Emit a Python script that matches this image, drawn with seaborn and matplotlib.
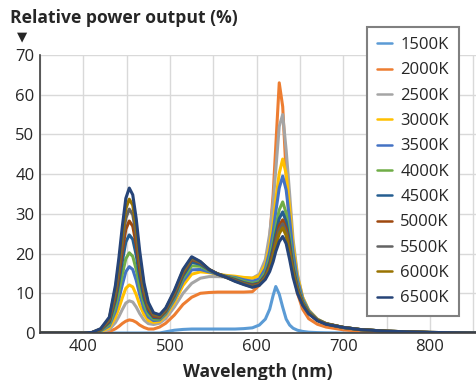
import numpy as np
import pandas as pd
import matplotlib
matplotlib.use("Agg")
import matplotlib.pyplot as plt
import seaborn as sns

# sample wavelengths (nm)
wavelength = [350, 400, 410, 420, 430, 437, 441, 445, 449, 453, 457, 461, 465, 470, 475,
              481, 488, 495, 505, 515, 525, 535, 545, 555, 565, 575, 585, 595,
              603, 610, 615, 619, 622, 626, 630, 634, 638, 642, 647, 653, 660, 670, 680,
              700, 720, 750, 800, 860]

cct_labels = ["1500K", "2000K", "2500K", "3000K", "3500K", "4000K",
              "4500K", "5000K", "5500K", "6000K", "6500K"]

# relative power output (%)
p1500 = [0, 0, 0, 0, 0, 0, 0, 0, 0, 0, 0, 0, 0, 0, 0,
         0, 0, 0.3, 0.7, 0.9, 1.0, 1.0, 1.0, 1.0, 1.0, 1.0, 1.1, 1.3,
         2.0, 3.5, 6.0, 9.5, 11.7, 9.8, 6.5, 3.5, 2.0, 1.2, 0.7, 0.4, 0.2, 0.1, 0.05,
         0, 0, 0, 0, 0]
p2000 = [0, 0, 0.01, 0.1, 0.35, 1.06, 1.66, 2.4, 2.98, 3.3, 3.14, 2.7, 2.0, 1.4, 1.0,
         1.0, 1.5, 2.45, 4.52, 7.2, 9.0, 10.0, 10.2, 10.3, 10.3, 10.3, 10.3, 10.4,
         12.0, 16.5, 24.0, 35.0, 47.0, 63.0, 57.0, 40.0, 26.0, 16.5, 10.0, 6.0, 3.6, 2.2, 1.5,
         0.8, 0.45, 0.2, 0.06, 0]
p2500 = [0, 0, 0.03, 0.24, 0.88, 2.64, 4.16, 5.92, 7.54, 8.1, 7.8, 6.54, 4.9, 3.26, 2.36,
         2.14, 2.48, 3.62, 6.54, 10.0, 12.5, 13.8, 14.2, 14.2, 14.1, 14.0, 13.9, 13.8,
         14.8, 18.5, 25.0, 33.0, 41.0, 52.0, 55.0, 46.0, 35.0, 23.5, 14.8, 9.0, 5.6, 3.4, 2.3,
         1.3, 0.8, 0.4, 0.12, 0]
p3000 = [0, 0, 0.05, 0.36, 1.32, 3.96, 6.24, 8.88, 11.26, 12.1, 11.6, 9.66, 7.1, 4.64, 3.14,
         2.66, 2.92, 4.38, 7.66, 12.0, 14.8, 15.4, 15.2, 14.8, 14.5, 14.3, 14.0, 13.8,
         14.4, 17.2, 22.0, 27.8, 33.5, 40.2, 43.8, 40.0, 31.5, 22.0, 14.3, 9.0, 5.8, 3.5, 2.4,
         1.4, 0.85, 0.45, 0.14, 0]
p3500 = [0, 0, 0.07, 0.5, 1.82, 5.45, 8.58, 12.2, 15.44, 16.7, 16.0, 13.27, 9.68, 6.08, 4.01,
         3.12, 3.28, 4.75, 8.38, 13.0, 15.9, 16.0, 15.4, 14.8, 14.3, 14.0, 13.4, 13.0,
         13.6, 16.2, 20.5, 25.5, 30.5, 36.5, 39.5, 36.0, 28.5, 20.2, 13.4, 8.6, 5.6, 3.4, 2.4,
         1.4, 0.85, 0.45, 0.14, 0]
p4000 = [0, 0, 0.08, 0.6, 2.2, 6.6, 10.4, 14.8, 18.7, 20.2, 19.3, 16.0, 11.6, 7.3, 4.7,
         3.5, 3.5, 5.1, 8.9, 13.8, 16.9, 16.8, 15.7, 14.9, 14.2, 13.8, 13.0, 12.5,
         13.0, 15.2, 18.8, 23.0, 26.8, 31.0, 33.0, 30.2, 24.2, 17.6, 12.0, 8.0, 5.3, 3.3, 2.3,
         1.4, 0.85, 0.45, 0.14, 0]
p4500 = [0, 0, 0.1, 0.74, 2.7, 8.1, 12.7, 18.1, 22.9, 24.7, 23.6, 19.6, 14.1, 8.7, 5.5,
         3.9, 3.8, 5.4, 9.3, 14.4, 17.8, 17.3, 15.9, 14.9, 14.1, 13.5, 12.7, 12.2,
         12.6, 14.6, 17.8, 21.6, 25.0, 28.8, 30.5, 28.0, 22.6, 16.6, 11.5, 7.7, 5.2, 3.3, 2.3,
         1.4, 0.85, 0.45, 0.14, 0]
p5000 = [0, 0, 0.11, 0.84, 3.1, 9.2, 14.6, 20.7, 26.1, 28.2, 26.9, 22.3, 16.1, 10.0, 6.2,
         4.2, 4.0, 5.6, 9.7, 15.0, 18.5, 17.7, 16.0, 14.9, 14.1, 13.3, 12.5, 12.0,
         12.4, 14.2, 17.0, 20.5, 23.5, 27.0, 28.5, 26.2, 21.3, 15.8, 11.1, 7.5, 5.1, 3.2, 2.3,
         1.4, 0.85, 0.45, 0.14, 0]
p5500 = [0, 0, 0.12, 0.93, 3.4, 10.2, 16.1, 22.9, 28.9, 31.2, 29.8, 24.7, 17.8, 10.9, 6.8,
         4.6, 4.2, 5.9, 10.1, 15.4, 18.8, 17.8, 16.0, 14.8, 14.0, 13.2, 12.4, 11.8,
         12.2, 14.0, 16.5, 19.8, 22.8, 26.0, 27.5, 25.3, 20.6, 15.4, 10.9, 7.4, 5.0, 3.2, 2.3,
         1.4, 0.85, 0.45, 0.14, 0]
p6000 = [0, 0, 0.13, 1.0, 3.7, 11.1, 17.4, 24.8, 31.3, 33.7, 32.2, 26.6, 19.1, 11.7, 7.2,
         4.9, 4.4, 6.1, 10.4, 15.7, 19.0, 17.9, 16.0, 14.8, 14.0, 13.1, 12.3, 11.6,
         12.1, 13.8, 16.2, 19.2, 22.0, 25.0, 26.5, 24.5, 20.0, 15.0, 10.6, 7.3, 5.0, 3.2, 2.3,
         1.4, 0.85, 0.45, 0.14, 0]
p6500 = [0, 0, 0.15, 1.1, 4.0, 12.0, 18.9, 26.9, 33.9, 36.5, 34.8, 28.8, 20.7, 12.6, 7.7,
         5.1, 4.6, 6.3, 10.7, 16.0, 19.2, 18.0, 16.0, 14.8, 14.0, 13.0, 12.2, 11.5,
         12.0, 13.5, 15.5, 18.0, 20.5, 23.0, 24.3, 22.5, 18.5, 14.0, 10.0, 7.0, 4.8, 3.1, 2.2,
         1.4, 0.85, 0.45, 0.14, 0]

colors = ["#5B9BD5", "#ED7D31", "#A5A5A5", "#FFC000", "#4472C4", "#70AD47",
          "#255E91", "#9E480E", "#636363", "#997300", "#264478"]

series = [p1500, p2000, p2500, p3000, p3500, p4000, p4500, p5000, p5500, p6000, p6500]
df = pd.concat([pd.DataFrame({"wavelength": wavelength, "power": vals, "cct": lab})
                for lab, vals in zip(cct_labels, series)], ignore_index=True)

sns.set_style("whitegrid")
plt.rcParams['font.family'] = ['Open Sans', 'DejaVu Sans']

fig = plt.figure(figsize=(4.76, 3.80), dpi=100)
ax = fig.add_axes([40 / 476, 1 - 333 / 380, 1 - 40 / 476, (333 - 55) / 380])

sns.lineplot(data=df, x="wavelength", y="power", hue="cct", palette=colors,
             linewidth=2.2, sort=False, ax=ax)

ax.set_xlim(350, 853)
ax.set_ylim(0, 70)
ax.set_xticks([400, 500, 600, 700, 800])
ax.set_xticks(np.arange(350, 860, 50), minor=True)
ax.set_yticks(range(0, 71, 10))
ax.grid(which="both", color="#D9D9D9", linewidth=1)
ax.tick_params(axis="both", which="both", length=0, labelsize=12, pad=4)
ax.set_xlabel("")
ax.set_ylabel("")
for side in ["top", "right"]:
    ax.spines[side].set_visible(False)
for side in ["left", "bottom"]:
    ax.spines[side].set_color("#404040")
    ax.spines[side].set_linewidth(1.2)

leg = ax.legend(loc="upper left", bbox_to_anchor=(367 / 476, 1 - 27 / 380),
                bbox_transform=fig.transFigure, fontsize=12, frameon=True,
                fancybox=False, framealpha=1, edgecolor="#808080",
                handlelength=0.9, handletextpad=0.5, labelspacing=0.56,
                borderpad=0.6, borderaxespad=0)
leg.get_frame().set_linewidth(1.5)
for line in leg.get_lines():
    line.set_linewidth(1.8)

fig.text(10 / 476, 1 - 18 / 380, "Relative power output (%)", fontsize=12.6,
         fontweight="bold", va="center", ha="left")
fig.text(22 / 476, 1 - 37 / 380, "\u25BC", fontsize=9.5, va="center", ha="center",
         family=["DejaVu Sans"])
fig.text(258 / 476, 1 - 377 / 380, "Wavelength (nm)", fontsize=12.6,
         fontweight="bold", va="baseline", ha="center")

fig.savefig("out.png", dpi=100)
